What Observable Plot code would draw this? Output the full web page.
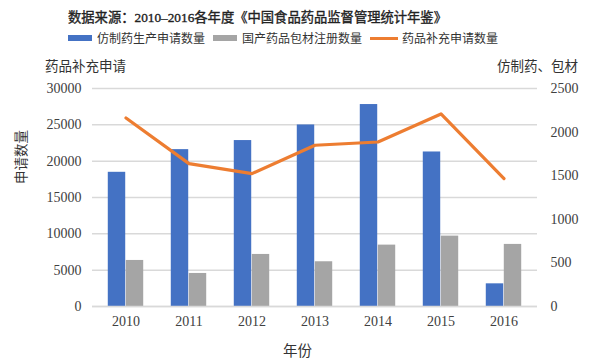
<!DOCTYPE html>
<html>
<head>
<meta charset="utf-8">
<script src="https://cdn.jsdelivr.net/npm/d3@7"></script>
<script src="https://cdn.jsdelivr.net/npm/@observablehq/plot@0.6"></script>
<style>
  html, body { margin: 0; padding: 0; background: #fff; }
  #wrap { position: relative; width: 601px; height: 358px; overflow: hidden;
          font-family: "Liberation Serif", "Noto Sans CJK SC", serif; color: #404040; }
  #title { position: absolute; left: 68px; top: 7px; font-size: 13.3px; font-weight: normal; -webkit-text-stroke: 0.35px #222; color: #222; white-space: nowrap; }
  #legend { position: absolute; left: 68px; top: 29px; font-size: 12px; white-space: nowrap; display: flex; align-items: center; color: #333; }
  .item { display: inline-flex; align-items: center; margin-right: 8px; }
  .sw { display: inline-block; width: 24px; height: 6px; margin-right: 5px; }
  .ln { display: inline-block; width: 28px; height: 3px; margin-right: 4px; }
  .atitle { position: absolute; font-size: 13.5px; white-space: nowrap; color: #333; }
  #chart { position: absolute; left: 0; top: 50px; }
</style>
</head>
<body>
<div id="wrap">
  <div id="title"></div>
  <div id="legend"></div>
  <div id="chart"></div>
  <div class="atitle" id="ylabL" style="left:45px; top:55px;"></div>
  <div class="atitle" id="ylabR" style="left:497px; top:55px;"></div>
  <div class="atitle" id="ylabV" style="left:20px; top:157px; transform: translate(-50%,-50%) rotate(-90deg);"></div>
  <div class="atitle" id="xlab" style="left:283px; top:339px; font-size:14.5px;"></div>
</div>
<script>
// ---- data ----
const years = ["2010", "2011", "2012", "2013", "2014", "2015", "2016"];
const genericApps = [1539, 1799, 1903, 2082, 2316, 1772, 260];      // right axis
const packagingRegs = [528, 379, 597, 513, 704, 807, 712];          // right axis
const supplementApps = [25950, 19660, 18285, 22190, 22640, 26500, 17600]; // left axis
const leftTicks = [0, 5000, 10000, 15000, 20000, 25000, 30000];
const rightTicks = [0, 500, 1000, 1500, 2000, 2500];
const seriesNames = ["仿制药生产申请数量", "国产药品包材注册数量", "药品补充申请数量"];
const titleText = "数据来源：2010–2016各年度《中国食品药品监督管理统计年鉴》";
const leftTitle = "药品补充申请";
const rightTitle = "仿制药、包材";
const yTitle = "申请数量";
const xTitle = "年份";
const colors = ["#4472C4", "#A5A5A5", "#ED7D31"];

const leftMax = 30000, rightMax = 2500;
const k = leftMax / rightMax;

document.getElementById("title").textContent = titleText;
document.getElementById("ylabL").textContent = leftTitle;
document.getElementById("ylabR").textContent = rightTitle;
document.getElementById("ylabV").textContent = yTitle;
document.getElementById("xlab").textContent = xTitle;

const legend = document.getElementById("legend");
seriesNames.forEach((n, i) => {
  const it = document.createElement("span");
  it.className = "item";
  const sw = document.createElement("span");
  sw.className = i === 2 ? "ln" : "sw";
  sw.style.background = colors[i];
  it.appendChild(sw);
  it.appendChild(document.createTextNode(n));
  legend.appendChild(it);
});

const rows = years.map((y, i) => ({year: y, g: genericApps[i] * k, p: packagingRegs[i] * k, s: supplementApps[i]}));

const W = 601, H = 308;
const mL = 92, mR = 64;
const bw = (W - mL - mR) / years.length;
const barW = 18;
const outer = bw / 2 - barW;

const chart = Plot.plot({
  width: W, height: H,
  marginLeft: mL, marginRight: mR, marginTop: 38, marginBottom: 52,
  style: {fontFamily: "'Liberation Serif', 'Noto Sans CJK SC', serif", fontSize: "14px", color: "#404040", background: "#fff"},
  x: {type: "band", domain: years, padding: 0, axis: null},
  y: {domain: [0, leftMax], axis: null},
  marks: [
    Plot.gridY(leftTicks, {stroke: "#d9d9d9", strokeOpacity: 1, strokeWidth: 1.5}),
    Plot.barY(rows, {x: "year", y: "g", fill: colors[0], insetLeft: outer, insetRight: bw / 2}),
    Plot.barY(rows, {x: "year", y: "p", fill: colors[1], insetLeft: bw / 2, insetRight: outer}),
    Plot.ruleY([0], {stroke: "#d9d9d9", strokeWidth: 1.5}),
    Plot.line(rows, {x: "year", y: "s", stroke: colors[2], strokeWidth: 3.2, strokeLinejoin: "round"}),
    Plot.axisY({anchor: "left", ticks: leftTicks, tickFormat: d3.format("d"), tickSize: 0, tickPadding: 11, label: null}),
    Plot.axisY({anchor: "right", ticks: rightTicks.map(v => v * k), tickFormat: d => String(Math.round(d / k)), tickSize: 0, tickPadding: 13, label: null}),
    Plot.axisX({anchor: "bottom", tickSize: 0, tickPadding: 10, label: null})
  ]
});
document.getElementById("chart").appendChild(chart);
</script>
</body>
</html>
